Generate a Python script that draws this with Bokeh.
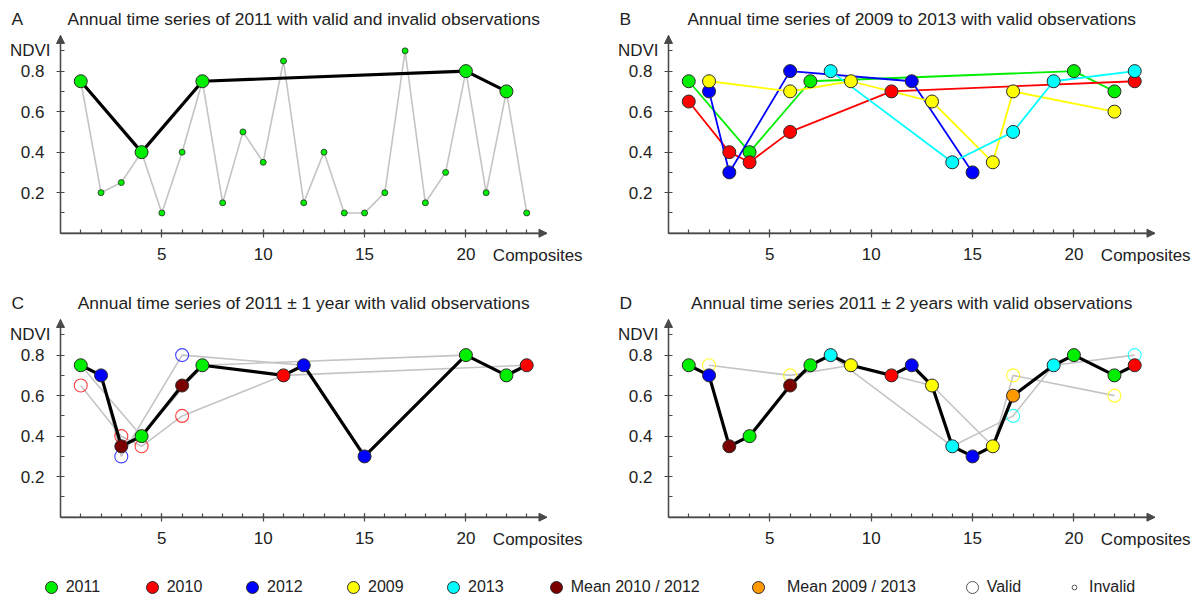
from bokeh.plotting import figure
from bokeh.models import Label, Arrow, NormalHead, FixedTicker, Legend, LegendItem, Range1d
from bokeh.layouts import column, row
from bokeh.embed import file_html
from bokeh.resources import INLINE

# ---------------- data ----------------
composites = list(range(1, 24))
ndvi_2011_all = [0.75, 0.2, 0.25, 0.4, 0.1, 0.4, 0.75, 0.15, 0.5, 0.35, 0.85, 0.15,
                 0.4, 0.1, 0.1, 0.2, 0.9, 0.15, 0.3, 0.8, 0.2, 0.7, 0.1]
x_2011 = [1, 4, 7, 20, 22]
y_2011 = [0.75, 0.4, 0.75, 0.8, 0.7]
x_2010 = [1, 3, 4, 6, 11, 23]
y_2010 = [0.65, 0.4, 0.35, 0.5, 0.7, 0.75]
x_2012 = [2, 3, 6, 12, 15]
y_2012 = [0.7, 0.3, 0.8, 0.75, 0.3]
x_2009 = [2, 6, 9, 13, 16, 17, 22]
y_2009 = [0.75, 0.7, 0.75, 0.65, 0.35, 0.7, 0.6]
x_2013 = [8, 14, 17, 19, 23]
y_2013 = [0.8, 0.35, 0.5, 0.75, 0.8]

# composite 2011 +/- 1 year
c_x = [1, 2, 3, 4, 6, 7, 11, 12, 15, 20, 22, 23]
c_y = [0.75, 0.7, 0.35, 0.4, 0.65, 0.75, 0.7, 0.75, 0.3, 0.8, 0.7, 0.75]
c_src = ["2011", "2012", "Mean 2010 / 2012", "2011", "Mean 2010 / 2012", "2011",
         "2010", "2012", "2012", "2011", "2011", "2010"]
c_open_x = [1, 3, 4, 6, 3, 6]
c_open_y = [0.65, 0.4, 0.35, 0.5, 0.3, 0.8]
c_open_src = ["2010", "2010", "2010", "2010", "2012", "2012"]

# composite 2011 +/- 2 years
d_x = [1, 2, 3, 4, 6, 7, 8, 9, 11, 12, 13, 14, 15, 16, 17, 19, 20, 22, 23]
d_y = [0.75, 0.7, 0.35, 0.4, 0.65, 0.75, 0.8, 0.75, 0.7, 0.75, 0.65, 0.35, 0.3,
       0.35, 0.6, 0.75, 0.8, 0.7, 0.75]
d_src = ["2011", "2012", "Mean 2010 / 2012", "2011", "Mean 2010 / 2012", "2011",
         "2013", "2009", "2010", "2012", "2009", "2013", "2012", "2009",
         "Mean 2009 / 2013", "2013", "2011", "2011", "2010"]
d_open_x = [2, 6, 17, 22, 17, 23]
d_open_y = [0.75, 0.7, 0.7, 0.6, 0.5, 0.8]
d_open_src = ["2009", "2009", "2009", "2009", "2013", "2013"]

x_ticks = [5, 10, 15, 20]
y_ticks = [0.2, 0.4, 0.6, 0.8]
y_minor = [0.1, 0.3, 0.5, 0.7, 0.9]

titles = ["Annual time series of 2011 with valid and invalid observations",
          "Annual time series of 2009 to 2013 with valid observations",
          "Annual time series of 2011 \u00b1 1 year with valid observations",
          "Annual time series 2011 \u00b1 2 years with valid observations"]
letters = ["A", "B", "C", "D"]
legend_labels = ["2011", "2010", "2012", "2009", "2013",
                 "Mean 2010 / 2012", "Mean 2009 / 2013", "Valid", "Invalid"]

# ---------------- styles / layout ----------------
COL = {"2011": "#00ee00", "2010": "#ff0000", "2012": "#0000ff", "2009": "#ffff00",
       "2013": "#00ffff", "Mean 2010 / 2012": "#7a0000", "Mean 2009 / 2013": "#ff9900"}
FONT = "Liberation Sans"
AX = "#4a4a4a"
TXT = "#222222"
GRAY = "#c4c4c4"
OUT = "#2a2a2a"
BIG = 13
SMALL = 6
XS = 20.27      # px per composite
YS = 202.6      # px per NDVI unit
LEFT = 60       # px from panel left to x = 0
TOP0 = 232.7    # px from panel top to y = 0
X_END = 24
Y_END = 0.976


def make_panel(i, width, height):
    x0 = -LEFT / XS
    y1 = TOP0 / YS
    p = figure(width=width, height=height,
               x_range=Range1d(x0, x0 + width / XS),
               y_range=Range1d(y1 - height / YS, y1),
               output_backend="svg", toolbar_location=None, min_border=0,
               outline_line_color=None)
    p.grid.visible = False
    p.xaxis.fixed_location = 0
    p.yaxis.fixed_location = 0
    p.xaxis.bounds = (0, X_END)
    p.yaxis.bounds = (0, Y_END)
    p.xaxis.ticker = FixedTicker(ticks=x_ticks, minor_ticks=composites)
    p.yaxis.ticker = FixedTicker(ticks=y_ticks, minor_ticks=y_minor)
    for ax in (p.xaxis[0], p.yaxis[0]):
        ax.axis_line_color = AX
        ax.axis_line_width = 1.3
        ax.major_tick_line_color = AX
        ax.minor_tick_line_color = AX
        ax.major_tick_line_width = 1.2
        ax.minor_tick_line_width = 1.2
        ax.major_tick_in = 4
        ax.major_tick_out = 4
        ax.minor_tick_in = 4
        ax.minor_tick_out = 0
        ax.major_label_text_font = FONT
        ax.major_label_text_font_size = "17px"
        ax.major_label_text_color = TXT
    p.xaxis.major_label_standoff = 11
    p.yaxis.major_label_standoff = 12
    p.add_layout(Arrow(end=NormalHead(size=8, fill_color=AX, line_color=AX),
                       x_start=0, y_start=0, x_end=0, y_end=Y_END,
                       line_color=AX, line_width=1.3))
    p.add_layout(Arrow(end=NormalHead(size=8, fill_color=AX, line_color=AX),
                       x_start=0, y_start=0, x_end=X_END, y_end=0,
                       line_color=AX, line_width=1.3))
    p.add_layout(Label(x=0, y=0.9, x_offset=-10, text="NDVI", text_align="right",
                       text_baseline="middle", text_font=FONT,
                       text_font_size="17px", text_color=TXT))
    p.add_layout(Label(x=21.33, y=-0.112, text="Composites", text_align="left",
                       text_baseline="middle", text_font=FONT,
                       text_font_size="17px", text_color=TXT))
    p.add_layout(Label(x=12, y=1.057, text=titles[i], text_align="center",
                       text_baseline="middle", text_font=FONT,
                       text_font_size="17.4px", text_color=TXT))
    p.add_layout(Label(x=0, y=1.057, x_offset=-49, text=letters[i], text_align="left",
                       text_baseline="middle", text_font=FONT,
                       text_font_size="17.4px", text_color=TXT))
    return p


W_LEFT, W_RIGHT = 608, 584
H_TOP, H_BOT, H_LEG = 284, 270, 43

# ---------------- panel A ----------------
pA = make_panel(0, W_LEFT, H_TOP)
pA.line(composites, ndvi_2011_all, line_color=GRAY, line_width=1.6)
pA.scatter(composites, ndvi_2011_all, size=SMALL, fill_color=COL["2011"],
           line_color=OUT, line_width=0.8)
pA.line(x_2011, y_2011, line_color="black", line_width=3.2)
pA.scatter(x_2011, y_2011, size=BIG, fill_color=COL["2011"], line_color=OUT, line_width=1)

# ---------------- panel B ----------------
pB = make_panel(1, W_RIGHT, H_TOP)
series_b = [("2011", x_2011, y_2011), ("2010", x_2010, y_2010),
            ("2012", x_2012, y_2012), ("2009", x_2009, y_2009),
            ("2013", x_2013, y_2013)]
for key, xs, ys in series_b:
    pB.line(xs, ys, line_color=COL[key], line_width=1.8)
for key, xs, ys in series_b:
    pB.scatter(xs, ys, size=BIG, fill_color=COL[key], line_color=OUT, line_width=1)

# ---------------- panel C ----------------
pC = make_panel(2, W_LEFT, H_BOT)
for xs, ys in [(x_2011, y_2011), (x_2010, y_2010), (x_2012, y_2012)]:
    pC.line(xs, ys, line_color=GRAY, line_width=1.6)
pC.scatter(c_open_x, c_open_y, size=BIG, fill_color=None,
           line_color=[COL[s] for s in c_open_src], line_alpha=0.75, line_width=1.1)
pC.line(c_x, c_y, line_color="black", line_width=3.2)
pC.scatter(c_x, c_y, size=BIG, fill_color=[COL[s] for s in c_src],
           line_color=OUT, line_width=1)

# ---------------- panel D ----------------
pD = make_panel(3, W_RIGHT, H_BOT)
for xs, ys in [(x_2009, y_2009), (x_2013, y_2013)]:
    pD.line(xs, ys, line_color=GRAY, line_width=1.6)
pD.scatter(d_open_x, d_open_y, size=BIG, fill_color=None,
           line_color=[COL[s] for s in d_open_src], line_alpha=0.8, line_width=1.1)
pD.line(d_x, d_y, line_color="black", line_width=3.2)
pD.scatter(d_x, d_y, size=BIG, fill_color=[COL[s] for s in d_src],
           line_color=OUT, line_width=1)

# ---------------- legend strip ----------------
leg = figure(width=W_LEFT + W_RIGHT, height=H_LEG, x_range=Range1d(0, 1),
             y_range=Range1d(0, 1), output_backend="svg", toolbar_location=None,
             min_border=0, x_axis_type=None, y_axis_type=None,
             outline_line_color=None)
leg.grid.visible = False

glyph_specs = [dict(fill_color=COL[lab], line_color=OUT) for lab in legend_labels[:7]]
glyph_specs.append(dict(fill_color=None, line_color="#555555"))
glyph_specs.append(dict(fill_color=None, line_color="#555555"))

centers = [50.7, 151.7, 252, 353, 453, 555.7, 758, 971.7, 1074]
nan = float("nan")
for k, lab in enumerate(legend_labels):
    r = leg.scatter([nan], [nan], size=12, line_width=1, **glyph_specs[k])
    gw = 12 if lab == "Invalid" else 30
    standoff = 9 if lab == "Invalid" else (14 if lab == "Mean 2009 / 2013" else 0)
    lg = Legend(items=[LegendItem(label=lab, renderers=[r])],
                location=(centers[k] - gw / 2, 10 - 15),
                glyph_width=gw, glyph_height=30, label_standoff=standoff,
                padding=0, margin=0, border_line_alpha=0, background_fill_alpha=0,
                label_text_font=FONT, label_text_font_size="16px",
                label_text_color=TXT)
    leg.add_layout(lg)

layout = column(row(pA, pB), row(pC, pD), leg)
open("out.html", "w").write(file_html(layout, INLINE))
